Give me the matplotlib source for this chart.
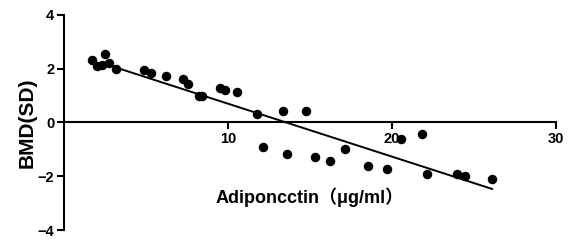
import matplotlib.pyplot as plt

# Data
adiponectin = [1.73, 2.03, 2.30, 2.52, 2.74, 3.15, 4.88, 5.28, 6.24, 7.24, 7.58,
               8.21, 8.43, 9.51, 9.84, 10.57, 11.75, 12.16, 13.33, 13.58, 14.74,
               15.33, 16.24, 17.15, 18.54, 19.72, 20.53, 21.83, 22.13, 23.94,
               24.45, 26.12]
bmd = [2.31, 2.10, 2.13, 2.54, 2.23, 2.00, 1.94, 1.84, 1.72, 1.62, 1.44,
       1.00, 1.00, 1.29, 1.22, 1.12, 0.30, -0.90, 0.42, -1.19, 0.42,
       -1.29, -1.42, -1.00, -1.60, -1.72, -0.61, -0.41, -1.91, -1.90,
       -2.00, -2.11]

# fitted line: y = slope * x + intercept, drawn over this x range
fit_slope = -0.197
fit_intercept = 2.67
fit_range = [3.1, 26.1]

x_ticks = [10, 20, 30]
y_ticks = [-4, -2, 0, 2, 4]

font = ["Liberation Sans", "Noto Sans CJK SC", "DejaVu Sans"]
plt.rcParams["font.family"] = font

fig = plt.figure(figsize=(5.71, 2.42), dpi=100)
ax = fig.add_axes([64 / 571, 12 / 242, 492 / 571, 215 / 242])

ax.scatter(adiponectin, bmd, s=34, color="black", zorder=3, clip_on=False)
fit_y = [fit_slope * x + fit_intercept for x in fit_range]
ax.plot(fit_range, fit_y, color="black", linewidth=1.4, zorder=2)

ax.set_xlim(0, 30)
ax.set_ylim(-4, 4)
ax.set_xticks(x_ticks)
ax.set_yticks(y_ticks)

ax.spines["top"].set_visible(False)
ax.spines["right"].set_visible(False)
ax.spines["bottom"].set_position(("data", 0))
for side in ["left", "bottom"]:
    ax.spines[side].set_linewidth(1.5)
ax.tick_params(axis="both", direction="out", length=5, width=1.5,
               labelsize=10.5, pad=2)
for lab in ax.get_xticklabels() + ax.get_yticklabels():
    lab.set_fontweight("bold")

ax.set_ylabel("BMD(SD)", fontsize=15, fontweight="bold", labelpad=1)
ax.text(15, -2.78, "Adiponcctin（μg/ml）", ha="center", va="center",
        fontsize=13, fontweight="bold", family=font)

fig.savefig("out.png", dpi=100)
